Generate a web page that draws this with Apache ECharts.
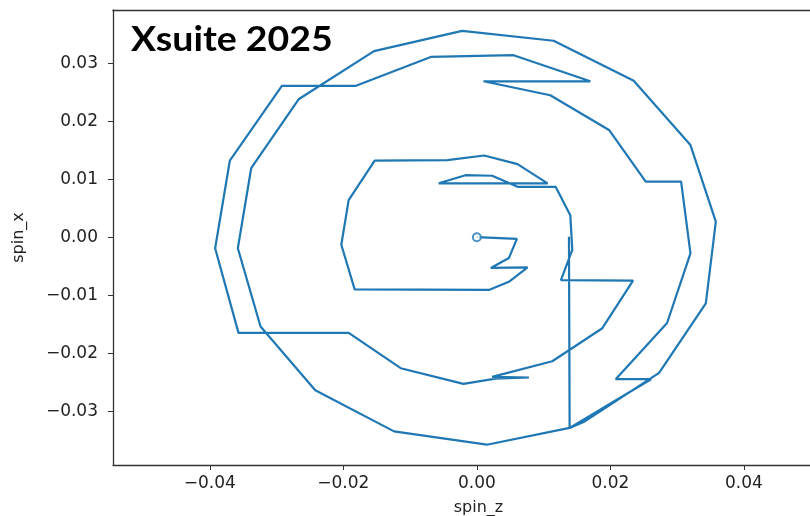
<!DOCTYPE html>
<html lang="en">
<head>
    <meta charset="UTF-8">
    <title>Xsuite 2025</title>
    <style>
        html, body { margin: 0; padding: 0; background: #fff; }
        #box { width: 810px; height: 516px; }
    </style>
</head>
<body>
    <div id="box"></div>
</body>
<script src="https://cdn.jsdelivr.net/npm/echarts@6/dist/echarts.min.js"></script>
<script>
    // spin trajectory (in path order)
    var spinZ = [0.0000, 0.0060, 0.0048, 0.0021, 0.0076, 0.0048, 0.0018, -0.0183, -0.0203, -0.0192,
        -0.0153, -0.0044, 0.0011, 0.0061, 0.0106, -0.0057, -0.0017, 0.0023, 0.0061, 0.0118,
        0.0140, 0.0143, 0.0126, 0.0234, 0.0188, 0.0113, 0.0023, 0.0078, 0.0028, -0.0020,
        -0.0114, -0.0192, -0.0357, -0.0392, -0.0370, -0.0292, -0.0182, -0.0069, 0.0055, 0.0170,
        0.0010, 0.0110, 0.0198, 0.0253, 0.0306, 0.0320, 0.0285, 0.0208, 0.0261, 0.0139,
        0.0015, -0.0124, -0.0242, -0.0324, -0.0358, -0.0338, -0.0267, -0.0154, -0.0022, 0.0115,
        0.0235, 0.0320, 0.0358, 0.0343, 0.0273, 0.0160, 0.0139, 0.0138];
    var spinX = [0.0000, -0.0003, -0.0036, -0.0053, -0.0052, -0.0077, -0.0091, -0.0090, -0.0013, 0.0064,
        0.0132, 0.0133, 0.0141, 0.0126, 0.0093, 0.0093, 0.0107, 0.0106, 0.0087, 0.0087,
        0.0038, -0.0022, -0.0074, -0.0075, -0.0157, -0.0214, -0.0241, -0.0242, -0.0244, -0.0253,
        -0.0226, -0.0165, -0.0165, -0.0019, 0.0132, 0.0261, 0.0261, 0.0311, 0.0314, 0.0269,
        0.0269, 0.0245, 0.0185, 0.0096, 0.0096, -0.0028, -0.0148, -0.0245, -0.0245, -0.0329,
        -0.0358, -0.0335, -0.0264, -0.0154, -0.0019, 0.0119, 0.0238, 0.0321, 0.0356, 0.0339,
        0.0270, 0.0159, 0.0027, -0.0114, -0.0234, -0.0319, -0.0329, 0.0001];
    var startPoint = [0.0000, 0.0000];

    var xTicks = [-0.04, -0.02, 0.00, 0.02, 0.04];
    var yTicks = [-0.03, -0.02, -0.01, 0.00, 0.01, 0.02, 0.03];

    var lineData = [];
    for (var i = 0; i < spinZ.length; i++) {
        lineData.push([spinZ[i], spinX[i]]);
    }

    function fmt(v) {
        return v.toFixed(2).replace('-', '\u2212');
    }

    var axisColor = '#333';
    var box = echarts.init(document.getElementById("box"));
    var option = {
        animation: false,
        backgroundColor: '#fff',
        textStyle: { fontFamily: 'DejaVu Sans' },
        graphic: [{
            type: 'text',
            x: 131,
            y: 39.5,
            scaleX: 1.07,
            z: 10,
            style: {
                text: 'Xsuite 2025',
                fill: '#000',
                font: 'bold 35px Lato',
                verticalAlign: 'middle'
            }
        }],
        grid: {
            left: 113,
            top: 10,
            width: 731,
            bottom: 51,
            outerBoundsMode: 'none',
            containLabel: false
        },
        xAxis: [{
            type: 'value',
            min: -0.0545,
            max: 0.055,
            name: 'spin_z',
            nameLocation: 'middle',
            nameGap: 35,
            nameTextStyle: { color: '#222', fontSize: 16 },
            axisLine: { show: true, onZero: false, lineStyle: { color: axisColor, width: 1.3 } },
            axisTick: { show: true, length: 5, customValues: xTicks, lineStyle: { color: axisColor } },
            axisLabel: {
                customValues: xTicks,
                color: '#222',
                fontSize: 17,
                margin: 10,
                formatter: fmt
            },
            splitLine: { show: false }
        }, {
            // top spine only
            type: 'value',
            position: 'top',
            min: -0.0545,
            max: 0.055,
            axisLine: { show: true, onZero: false, lineStyle: { color: axisColor, width: 1.3 } },
            axisTick: { show: false },
            axisLabel: { show: false },
            splitLine: { show: false }
        }],
        yAxis: {
            type: 'value',
            min: -0.0393,
            max: 0.0392,
            name: 'spin_x',
            nameLocation: 'middle',
            nameGap: 86,
            nameTextStyle: { color: '#222', fontSize: 16 },
            axisLine: { show: true, onZero: false, lineStyle: { color: axisColor, width: 1.3 } },
            axisTick: { show: true, length: 5, customValues: yTicks, lineStyle: { color: axisColor } },
            axisLabel: {
                customValues: yTicks,
                color: '#222',
                fontSize: 17,
                margin: 15,
                formatter: fmt
            },
            splitLine: { show: false }
        },
        series: [
            {
                type: 'line',
                data: lineData,
                showSymbol: false,
                lineStyle: { color: '#1f77b4', width: 2.2 },
                z: 2
            },
            {
                type: 'scatter',
                data: [startPoint],
                symbol: 'circle',
                symbolSize: 8,
                itemStyle: { color: '#fff', borderColor: '#1f77b4', borderWidth: 2 },
                z: 3
            }
        ]
    };
    box.setOption(option);
</script>
</html>
